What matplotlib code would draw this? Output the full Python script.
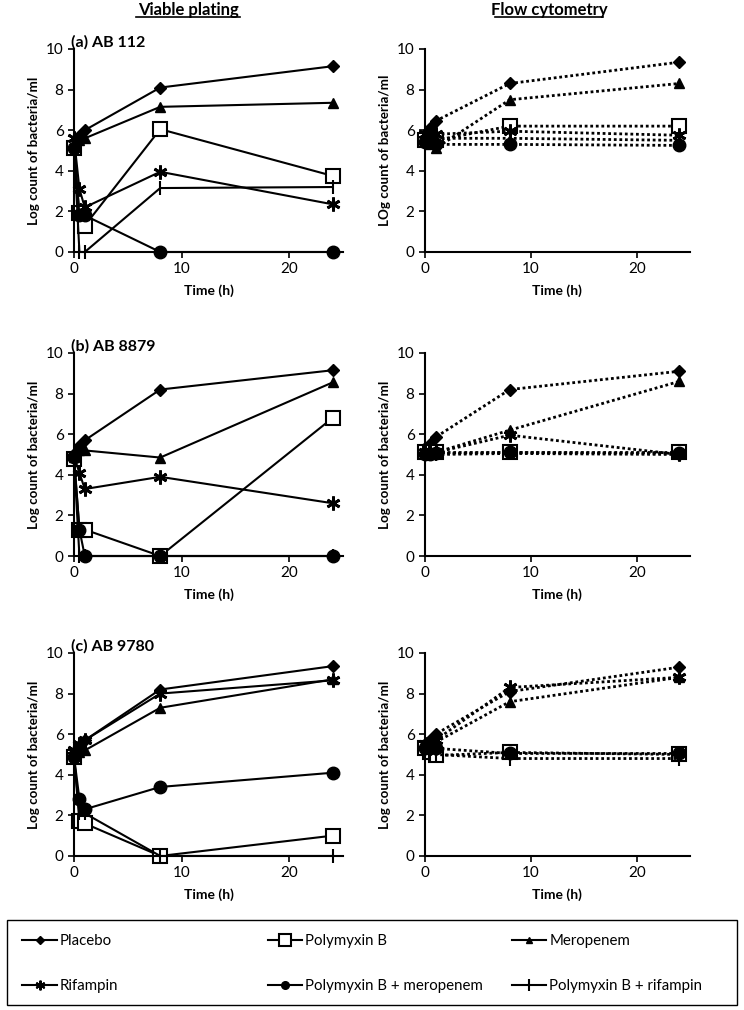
import matplotlib.pyplot as plt
from matplotlib.lines import Line2D
from matplotlib.patches import Rectangle

plt.rcParams['font.family'] = ['Lato', 'DejaVu Sans']

# Sampling times (h)
times = [0, 0.5, 1, 8, 24]

treatments = ['Placebo', 'Polymyxin B', 'Meropenem', 'Rifampin',
              'Polymyxin B + meropenem', 'Polymyxin B + rifampin']

# Viable plating (log count) per strain
plate_a = {
    'Placebo': [5.3, 5.7, 6.0, 8.1, 9.15],
    'Polymyxin B': [5.1, 1.9, 1.3, 6.05, 3.75],
    'Meropenem': [5.3, 5.5, 5.6, 7.15, 7.35],
    'Rifampin': [5.6, 3.1, 2.2, 3.95, 2.35],
    'Polymyxin B + meropenem': [5.1, 1.8, 1.8, 0, 0],
    'Polymyxin B + rifampin': [5.2, 0, 0, 3.15, 3.2],
}
plate_b = {
    'Placebo': [5.0, 5.4, 5.7, 8.2, 9.15],
    'Polymyxin B': [4.8, 1.3, 1.3, 0, 6.8],
    'Meropenem': [4.9, 5.2, 5.2, 4.85, 8.55],
    'Rifampin': [4.9, 4.1, 3.3, 3.9, 2.6],
    'Polymyxin B + meropenem': [4.9, 1.3, 0, 0, 0],
    'Polymyxin B + rifampin': [4.8, 0, 0, 0, 0],
}
plate_c = {
    'Placebo': [5.0, 5.4, 5.7, 8.2, 9.35],
    'Polymyxin B': [4.9, 1.7, 1.6, 0, 1.0],
    'Meropenem': [5.0, 5.1, 5.2, 7.3, 8.7],
    'Rifampin': [5.2, 5.5, 5.7, 8.0, 8.65],
    'Polymyxin B + meropenem': [4.9, 2.8, 2.3, 3.4, 4.1],
    'Polymyxin B + rifampin': [4.9, 2.1, 2.1, 0, 0],
}

# Flow cytometry (log count) per strain
flow_a = {
    'Placebo': [5.8, 6.1, 6.45, 8.3, 9.35],
    'Polymyxin B': [5.5, 5.5, 5.5, 6.2, 6.2],
    'Meropenem': [5.5, 5.3, 5.1, 7.5, 8.3],
    'Rifampin': [5.8, 5.8, 5.8, 5.95, 5.75],
    'Polymyxin B + meropenem': [5.4, 5.4, 5.3, 5.3, 5.25],
    'Polymyxin B + rifampin': [5.6, 5.6, 5.6, 5.6, 5.5],
}
flow_b = {
    'Placebo': [5.3, 5.5, 5.85, 8.2, 9.1],
    'Polymyxin B': [5.1, 5.1, 5.1, 5.1, 5.1],
    'Meropenem': [5.1, 5.1, 5.1, 6.2, 8.6],
    'Rifampin': [5.1, 5.1, 5.1, 5.95, 5.0],
    'Polymyxin B + meropenem': [5.0, 5.0, 5.05, 5.1, 5.05],
    'Polymyxin B + rifampin': [5.0, 5.0, 5.0, 5.05, 5.0],
}
flow_c = {
    'Placebo': [5.5, 5.7, 6.0, 8.1, 9.3],
    'Polymyxin B': [5.3, 5.1, 4.95, 5.1, 5.0],
    'Meropenem': [5.5, 5.5, 5.6, 7.6, 8.8],
    'Rifampin': [5.5, 5.6, 5.7, 8.3, 8.8],
    'Polymyxin B + meropenem': [5.3, 5.3, 5.3, 5.05, 5.05],
    'Polymyxin B + rifampin': [5.2, 5.0, 5.0, 4.8, 4.8],
}

strain_labels = ['(a) AB 112', '(b) AB 8879', '(c) AB 9780']
flow_ylabels = ['LOg count of bacteria/ml', 'Log count of bacteria/ml', 'Log count of bacteria/ml']

styles = {
    'Placebo': dict(marker='D', ms=6.5, mfc='black'),
    'Polymyxin B': dict(marker='s', ms=10, mfc='white', mew=1.5),
    'Meropenem': dict(marker='^', ms=7.5, mfc='black'),
    'Rifampin': dict(marker=(6, 2, 0), ms=10, mew=2),
    'Polymyxin B + meropenem': dict(marker='o', ms=9, mfc='black'),
    'Polymyxin B + rifampin': dict(marker='|', ms=10, mew=1.5),
}

fig = plt.figure(figsize=(7.44, 10.10), dpi=100)

lefts = [0.0995, 0.5712]
width = [0.362, 0.356]
bottoms = [0.7505, 0.4495, 0.1525]
height = 0.201

plates = [plate_a, plate_b, plate_c]
flows = [flow_a, flow_b, flow_c]


def style_axes(ax, ylabel):
    ax.set_xlim(0, 25)
    ax.set_ylim(0, 10)
    ax.set_xticks([0, 10, 20])
    ax.set_yticks([0, 2, 4, 6, 8, 10])
    for s in ['top', 'right']:
        ax.spines[s].set_visible(False)
    for s in ['left', 'bottom']:
        ax.spines[s].set_linewidth(1.5)
    ax.tick_params(direction='out', length=4, width=1.2, labelsize=11)
    ax.set_xlabel('Time (h)', fontweight='bold', fontsize=10, labelpad=6)
    ax.set_ylabel(ylabel, fontweight='bold', fontsize=9.6)


for i in range(3):
    ax = fig.add_axes([lefts[0], bottoms[i], width[0], height])
    for t in treatments:
        ax.plot(times, plates[i][t], color='black', lw=1.5, mec='black',
                clip_on=False, **styles[t])
    style_axes(ax, 'Log count of bacteria/ml')
    ax.text(-0.01, 1.012, strain_labels[i], transform=ax.transAxes,
            fontweight='bold', fontsize=11.5, va='baseline', ha='left')

    ax2 = fig.add_axes([lefts[1], bottoms[i], width[1], height])
    for t in treatments:
        ax2.plot(times, flows[i][t], color='black', lw=2, ls=(0, (1, 1)),
                 mec='black', clip_on=False, **styles[t])
    style_axes(ax2, flow_ylabels[i])

fig.text(0.253, 0.9985, 'Viable plating', fontweight='bold', fontsize=12,
         ha='center', va='top')
fig.text(0.738, 0.9985, 'Flow cytometry', fontweight='bold', fontsize=12,
         ha='center', va='top')
# underline the column titles
fig.add_artist(Line2D([0.183, 0.323], [0.983, 0.983], color='black', lw=1.2))
fig.add_artist(Line2D([0.665, 0.811], [0.983, 0.983], color='black', lw=1.2))

# Legend: three columns placed separately, inside one black box
leg_styles = {
    'Placebo': dict(marker='D', ms=4, mfc='black'),
    'Polymyxin B': dict(marker='s', ms=8, mfc='white', mew=1.5),
    'Meropenem': dict(marker='^', ms=5, mfc='black'),
    'Rifampin': dict(marker=(6, 2, 0), ms=7, mew=1.5),
    'Polymyxin B + meropenem': dict(marker='o', ms=5.5, mfc='black'),
    'Polymyxin B + rifampin': dict(marker='|', ms=8, mew=1.5),
}
columns = [['Placebo', 'Rifampin'],
           ['Polymyxin B', 'Polymyxin B + meropenem'],
           ['Meropenem', 'Polymyxin B + rifampin']]
col_x = [0.03, 0.36, 0.688]
for names, x0 in zip(columns, col_x):
    hs = [Line2D([], [], color='black', lw=1.5, mec='black', **leg_styles[t]) for t in names]
    fig.legend(hs, names, loc='upper left', bbox_to_anchor=(x0, 0.075),
               borderaxespad=0, borderpad=0, frameon=False, fontsize=10.8,
               handlelength=2.3, handletextpad=0.2, labelspacing=2.05)
fig.add_artist(Rectangle((0.01, 0.005), 0.98, 0.084, transform=fig.transFigure,
                         fill=False, edgecolor='black', lw=1.0))

plt.savefig('out.png', dpi=100)
plt.close()
